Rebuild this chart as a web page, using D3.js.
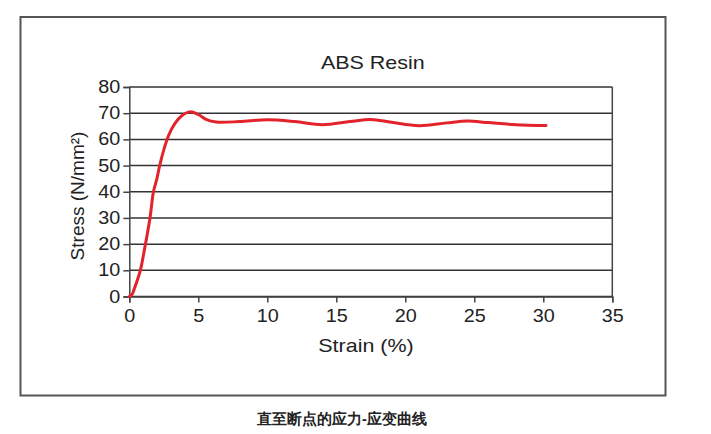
<!DOCTYPE html>
<html>
<head>
<meta charset="utf-8">
<script src="https://cdn.jsdelivr.net/npm/d3@7/dist/d3.min.js"></script>
<style>
  html, body { margin: 0; padding: 0; background: #ffffff; }
  svg { display: block; }
  text { font-family: "Liberation Sans", Arial, sans-serif; fill: #222; }
</style>
</head>
<body>
<svg id="chart" width="711" height="434"></svg>
<script>
// ---- data ----
const strain = [0, 0.2, 0.4, 0.8, 1.1, 1.5, 1.75, 2.0, 2.2, 2.5, 2.85, 3.3, 3.8, 4.4, 5.0, 5.6, 6.3, 8.0, 10.0, 12.0, 14.0, 16.0, 17.5, 19.0, 21.0, 23.0, 24.5, 26.0, 28.0, 30.2];
const stress = [0, 0.8, 3.5, 10, 18, 30, 40, 45, 50, 56, 61.5, 66, 69, 70.5, 69.5, 67.5, 66.6, 66.8, 67.5, 66.8, 65.6, 66.8, 67.6, 66.5, 65.2, 66.3, 67.0, 66.4, 65.6, 65.3];
const xTicks = [0, 5, 10, 15, 20, 25, 30, 35];
const yTicks = [0, 10, 20, 30, 40, 50, 60, 70, 80];
const chartTitle = "ABS Resin";
const xLabel = "Strain (%)";
const yLabel = "Stress (N/mm\u00B2)";
const caption = "直至断点的应力-应变曲线";

(function () {
const svg = d3.select("#chart");
const stretch = 1.13;

// outer frame
svg.append("rect")
  .attr("x", 20.5).attr("y", 17).attr("width", 645).attr("height", 378.5)
  .attr("fill", "#fff").attr("stroke", "#555").attr("stroke-width", 2);

const pLeft = 129.3, pRight = 612.3, pTop = 87, pBottom = 296.5;
const x = d3.scaleLinear().domain([0, 35]).range([pLeft, pRight]);
const y = d3.scaleLinear().domain([0, 80]).range([pBottom, pTop]);

function widen(sel) {
  sel.each(function() {
    const w = this.getComputedTextLength();
    d3.select(this).attr("textLength", w * stretch).attr("lengthAdjust", "spacingAndGlyphs");
  });
}

// gridlines
svg.append("g").selectAll("line").data(yTicks).join("line")
  .attr("x1", pLeft).attr("x2", pRight)
  .attr("y1", d => y(d)).attr("y2", d => y(d))
  .attr("stroke", "#333").attr("stroke-width", 1.5);

// right border
svg.append("line").attr("x1", pRight).attr("x2", pRight).attr("y1", pTop).attr("y2", pBottom)
  .attr("stroke", "#444").attr("stroke-width", 1.5);

// axes
const gx = svg.append("g").attr("transform", `translate(0,${pBottom})`)
  .call(d3.axisBottom(x).tickValues(xTicks).tickSize(6).tickPadding(4).tickFormat(d3.format("d")));
const gy = svg.append("g").attr("transform", `translate(${pLeft},0)`)
  .call(d3.axisLeft(y).tickValues(yTicks).tickSize(6).tickPadding(3).tickFormat(d3.format("d")));
[gx, gy].forEach(g => {
  g.select(".domain").attr("stroke", "#444").attr("stroke-width", 1.5);
  g.selectAll(".tick line").attr("stroke", "#444").attr("stroke-width", 1.5);
  g.selectAll(".tick text").attr("font-size", 17.5).attr("fill", "#222")
    .attr("font-family", "Liberation Sans, Arial, sans-serif");
});
gx.selectAll(".tick text").attr("dy", "0.9em");
widen(gx.selectAll(".tick text"));
widen(gy.selectAll(".tick text"));

// curve
const pts = strain.map((s, i) => [s, stress[i]]);
svg.append("path").datum(pts)
  .attr("fill", "none").attr("stroke", "#e3232b").attr("stroke-width", 3)
  .attr("stroke-linejoin", "round").attr("stroke-linecap", "round")
  .attr("d", d3.line().x(d => x(d[0])).y(d => y(d[1])).curve(d3.curveCatmullRom.alpha(0.5)));

// title
svg.append("text").attr("x", (pLeft + pRight) / 2 + 2).attr("y", 69)
  .attr("text-anchor", "middle").attr("font-size", 19).text(chartTitle).call(widen);

// x label
svg.append("text").attr("x", 366).attr("y", 352)
  .attr("text-anchor", "middle").attr("font-size", 19).text(xLabel).call(widen);

// y label
svg.append("text").attr("transform", `translate(84,196) rotate(-90)`)
  .attr("text-anchor", "middle").attr("font-size", 19).text(yLabel);

// caption
svg.append("text").attr("x", 342).attr("y", 424)
  .attr("text-anchor", "middle").attr("font-size", 14.5).attr("font-weight", "bold")
  .attr("font-family", "Noto Sans CJK SC, sans-serif").attr("fill", "#222")
  .text(caption);
})();
</script>
</body>
</html>
